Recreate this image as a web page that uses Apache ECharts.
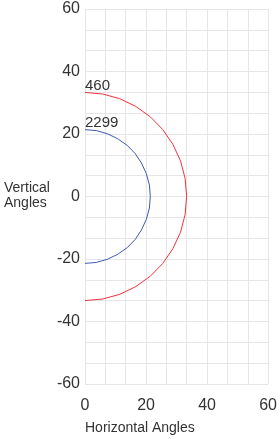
<!DOCTYPE html>
<html>
<head>
<meta charset="utf-8">
<script src="https://cdn.jsdelivr.net/npm/echarts@6/dist/echarts.min.js"></script>
<style>
  html, body { margin: 0; padding: 0; background: #fff; }
  #chart { width: 280px; height: 439px; }
</style>
</head>
<body>
<div id="chart"></div>
<script>
// 读图估出的点 [水平角, 垂直角]
var names = ['460', '2299'];
var colors = ['#f2333c', '#3f5bb0'];

var red460 = [
    [0, 33.3], [5.8, 32.8], [11.4, 31.3], [16.7, 28.8], [21.4, 25.5],
    [25.5, 21.4], [28.8, 16.7], [31.3, 11.4], [32.8, 5.8], [33.3, 0],
    [32.8, -5.8], [31.3, -11.4], [28.8, -16.7], [25.5, -21.4], [21.4, -25.5],
    [16.7, -28.8], [11.4, -31.3], [5.8, -32.8], [0, -33.3]
];
var blue2299 = [
    [0, 21.4], [3.7, 21.1], [7.3, 20.1], [10.7, 18.5], [13.8, 16.4],
    [16.4, 13.8], [18.5, 10.7], [20.1, 7.3], [21.1, 3.7], [21.4, 0],
    [21.1, -3.7], [20.1, -7.3], [18.5, -10.7], [16.4, -13.8], [13.8, -16.4],
    [10.7, -18.5], [7.3, -20.1], [3.7, -21.1], [0, -21.4]
];

var xTicks = [0, 60, 20];   // min, max, interval
var yTicks = [-60, 60, 20];

var chart = echarts.init(document.getElementById('chart'));

var gridColor = '#e6e6e6';
var textColor = '#333';
var font = "'Liberation Sans', Arial, sans-serif";

function makeSeries(name, data, color) {
    var pts = data.map(function (p, i) {
        if (i == 0) {
            return { value: p, label: { show: true } };
        }
        return p;
    });
    return {
        name: name,
        type: 'line',
        data: pts,
        symbol: 'circle',
        symbolSize: 0,
        showSymbol: true,
        showAllSymbol: true,
        smooth: false,
        label: {
            show: false,
            position: 'top',
            align: 'left',
            distance: 0,
            offset: [0, 1],
            formatter: name,
            color: textColor,
            fontSize: 15,
            fontFamily: font
        },
        lineStyle: { color: color, width: 1 },
        itemStyle: { color: color },
        animation: false
    };
}

var axisCommon = {
    type: 'value',
    axisLine: { show: false },
    axisTick: { show: false },
    splitLine: { show: true, lineStyle: { color: gridColor, width: 1 } },
    minorTick: { show: false, splitNumber: 3 },
    minorSplitLine: { show: true, lineStyle: { color: gridColor, width: 1 } },
    axisLabel: { color: textColor, fontSize: 16, fontFamily: font }
};

var option = {
    backgroundColor: '#fff',
    grid: { left: 85, right: 7, top: 9, bottom: 55, containLabel: false },
    xAxis: echarts.util.merge({
        min: xTicks[0], max: xTicks[1], interval: xTicks[2],
        axisLabel: { margin: 14 }
    }, axisCommon),
    yAxis: echarts.util.merge({
        min: yTicks[0], max: yTicks[1], interval: yTicks[2],
        axisLabel: { margin: 5 }
    }, axisCommon),
    graphic: [
        {
            type: 'text', left: 85, top: 421,
            style: { text: 'Horizontal Angles', fill: textColor, font: '14px ' + font }
        },
        {
            type: 'text', left: 4, top: 181,
            style: { text: 'Vertical\nAngles', fill: textColor, font: '14px ' + font, lineHeight: 15 }
        }
    ],
    series: [
        makeSeries(names[0], red460, colors[0]),
        makeSeries(names[1], blue2299, colors[1])
    ]
};

chart.setOption(option);
</script>
</body>
</html>
